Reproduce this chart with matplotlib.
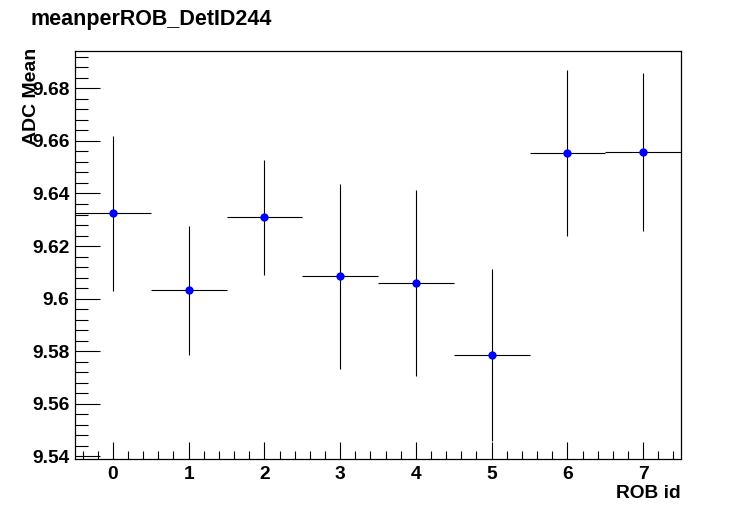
import numpy as np
import matplotlib
matplotlib.use("Agg")
import matplotlib.pyplot as plt
from matplotlib.ticker import MultipleLocator

rob_id = [0, 1, 2, 3, 4, 5, 6, 7]
adc_mean = [9.6325, 9.6032, 9.6309, 9.6085, 9.6059, 9.5786, 9.6553, 9.6557]
adc_err = [0.0295, 0.0245, 0.0218, 0.0352, 0.0355, 0.0326, 0.0316, 0.0300]
bin_half = [0.5] * len(rob_id)

plt.rcParams["font.family"] = ["Liberation Sans", "DejaVu Sans"]
plt.rcParams["font.weight"] = "bold"

fig = plt.figure(figsize=(7.56, 5.11), dpi=100)
ax = fig.add_axes([75 / 756, 52 / 511, 606 / 756, 408 / 511])

ax.errorbar(rob_id, adc_mean, xerr=bin_half, yerr=adc_err, fmt="o",
            color="blue", ecolor="black", elinewidth=0.8, capsize=0,
            markersize=6, markeredgewidth=0)

ax.set_xlim(-0.5, 7.5)
ax.set_ylim(9.539, 9.6942)

ax.xaxis.set_major_locator(MultipleLocator(1))
ax.xaxis.set_minor_locator(MultipleLocator(0.2))
ax.yaxis.set_major_locator(MultipleLocator(0.02))
ax.yaxis.set_minor_locator(MultipleLocator(0.004))

ax.tick_params(axis="both", which="both", direction="in", top=False, right=False,
               width=0.8, labelsize=13.8)
ax.tick_params(axis="x", which="major", length=12, pad=5)
ax.tick_params(axis="x", which="minor", length=6)
ax.tick_params(axis="y", which="major", length=18, pad=4)
ax.tick_params(axis="y", which="minor", length=9)

ax.set_yticks(ax.get_yticks())
ax.set_yticklabels(["%g" % v for v in ax.get_yticks()])
ax.set_ylim(9.539, 9.6942)

for sp in ax.spines.values():
    sp.set_linewidth(0.9)

fig.text(30 / 756, 1 - 19 / 511, "meanperROB_DetID244", fontsize=15.5,
         fontweight="bold", va="center", ha="left")
fig.text(31 / 756, 1 - 48 / 511, "ADC Mean", rotation=90, fontsize=14,
         fontweight="bold", va="top", ha="center")
fig.text(681 / 756, 1 - 493 / 511, "ROB id", fontsize=13.8,
         fontweight="bold", va="center", ha="right")

fig.savefig("out.png", dpi=100)
